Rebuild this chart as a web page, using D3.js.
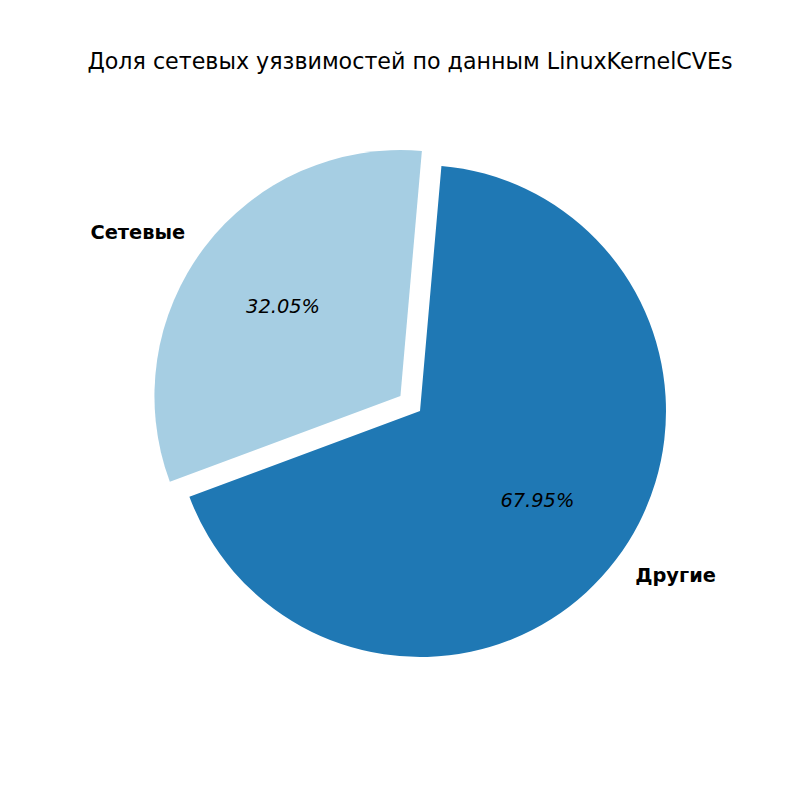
<!DOCTYPE html>
<html>
<head>
<meta charset="utf-8">
<script src="https://cdn.jsdelivr.net/npm/d3@7"></script>
<style>
body { margin: 0; background: #fff; }
text { font-family: "DejaVu Sans", sans-serif; }
</style>
</head>
<body>
<svg id="chart" width="800" height="800"></svg>
<script>
const categories = ["Сетевые", "Другие"];
const values = [32.05, 67.95];
const percentLabels = ["32.05%", "67.95%"];
const explodeFactors = [0.1, 0];
const colors = ["#a6cee3", "#1f78b4"];
const title = "Доля сетевых уязвимостей по данным LinuxKernelCVEs";

const svg = d3.select("#chart");
const cx = 420, cy = 411, r = 246;
const startDeg = 5;

svg.append("rect").attr("width", 800).attr("height", 800).attr("fill", "#fff");

svg.append("text")
  .attr("x", 410).attr("y", 69)
  .attr("text-anchor", "middle")
  .attr("font-size", "22.2px")
  .attr("fill", "#000")
  .text(title);

const pie = d3.pie().sort(null).value(d => d)
  .startAngle(startDeg * Math.PI / 180)
  .endAngle((startDeg - 360) * Math.PI / 180);
const arcs = pie(values);
const arc = d3.arc().innerRadius(0).outerRadius(r);

const g = svg.append("g").attr("transform", `translate(${cx},${cy})`);

arcs.forEach((a, i) => {
  const mid = (a.startAngle + a.endAngle) / 2;
  const ux = Math.sin(mid), uy = -Math.cos(mid);
  const ox = ux * explodeFactors[i] * r, oy = uy * explodeFactors[i] * r;
  const sg = g.append("g").attr("transform", `translate(${ox},${oy})`);
  sg.append("path").attr("d", arc(a)).attr("fill", colors[i]);
  sg.append("text")
    .attr("x", ux * r * 1.1).attr("y", uy * r * 1.1)
    .attr("text-anchor", ux < 0 ? "end" : "start")
    .attr("dominant-baseline", "central")
    .attr("font-size", "19.4px")
    .attr("font-weight", "bold")
    .attr("fill", "#000")
    .text(categories[i]);
  sg.append("text")
    .attr("x", ux * r * 0.6).attr("y", uy * r * 0.6)
    .attr("text-anchor", "middle")
    .attr("dominant-baseline", "central")
    .attr("font-size", "19.4px")
    .attr("font-style", "italic")
    .attr("fill", "#000")
    .text(percentLabels[i]);
});
</script>
</body>
</html>
